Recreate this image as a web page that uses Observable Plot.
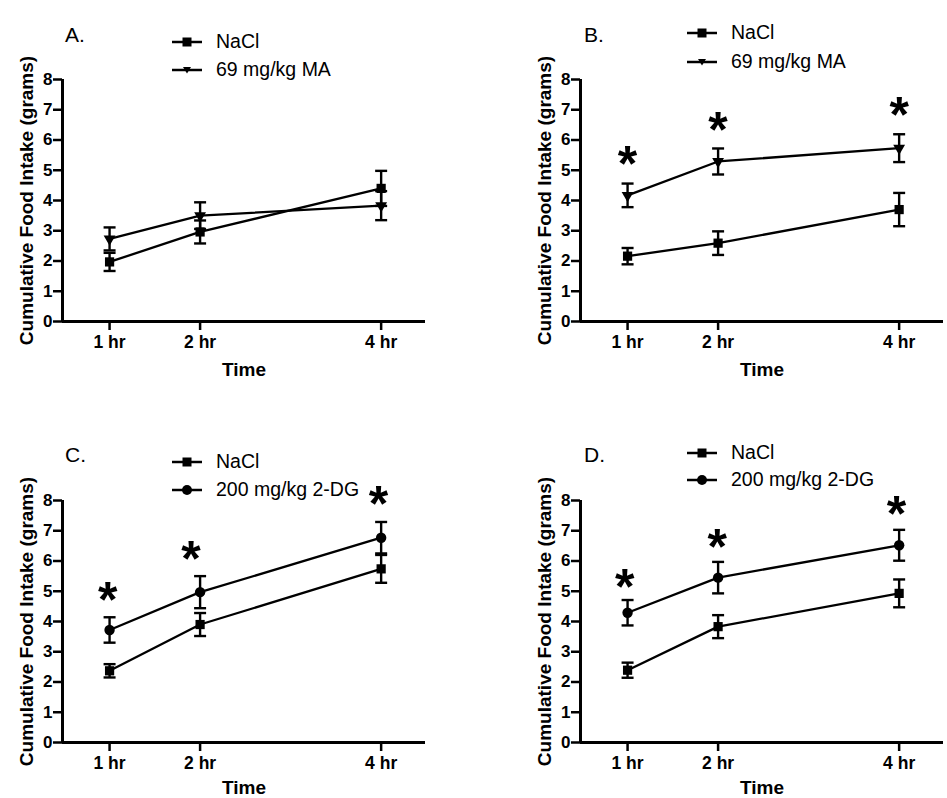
<!DOCTYPE html>
<html>
<head>
<meta charset="utf-8">
<script src="https://cdn.jsdelivr.net/npm/d3@7"></script>
<script src="https://cdn.jsdelivr.net/npm/@observablehq/plot@0.6"></script>
<style>
  html, body { margin: 0; padding: 0; background: #fff; }
  #root { position: relative; width: 947px; height: 798px; font-family: "Liberation Sans", Arial, sans-serif; color: #000; }
  .panel { position: absolute; }
  .letter { position: absolute; font-size: 21px; line-height: 1; }
  .legend { position: absolute; font-size: 19.5px; }
  .legrow { position: absolute; display: flex; align-items: center; white-space: nowrap; }
  .legrow svg { display: block; }
  .legrow span { margin-left: 14px; line-height: 1; }
</style>
</head>
<body>
<div id="root"></div>
<script>
// ---- Data ----
const times = [1, 2, 4];
const timeLabels = ["1 hr", "2 hr", "4 hr"];
const yTicks = [0, 1, 2, 3, 4, 5, 6, 7, 8];

// Panel A: NaCl vs 69 mg/kg MA
const aNaclMean = [1.97, 2.96, 4.40];
const aNaclSem  = [0.30, 0.38, 0.58];
const aMaMean   = [2.73, 3.50, 3.83];
const aMaSem    = [0.38, 0.44, 0.48];

// Panel B: NaCl vs 69 mg/kg MA
const bNaclMean = [2.16, 2.59, 3.70];
const bNaclSem  = [0.27, 0.39, 0.55];
const bMaMean   = [4.17, 5.29, 5.73];
const bMaSem    = [0.39, 0.43, 0.46];
const bStarX    = [1.0, 2.0, 4.0];
const bStarY    = [5.38, 6.48, 6.98];

// Panel C: NaCl vs 200 mg/kg 2-DG
const cNaclMean = [2.37, 3.90, 5.74];
const cNaclSem  = [0.22, 0.38, 0.46];
const cDgMean   = [3.72, 4.97, 6.77];
const cDgSem    = [0.42, 0.53, 0.52];
const cStarX    = [0.98, 1.90, 3.97];
const cStarY    = [4.86, 6.24, 8.06];

// Panel D: NaCl vs 200 mg/kg 2-DG
const dNaclMean = [2.39, 3.83, 4.93];
const dNaclSem  = [0.25, 0.38, 0.46];
const dDgMean   = [4.29, 5.45, 6.52];
const dDgSem    = [0.42, 0.52, 0.51];
const dStarX    = [0.97, 1.99, 3.97];
const dStarY    = [5.31, 6.63, 7.71];

const seriesNames = { nacl: "NaCl", ma: "69 mg/kg MA", dg: "200 mg/kg 2-DG" };
const xDomain = [0.48, 4.49];
const yDomain = [0, 8];
// ------------------------------------------------

const FONT = '"Liberation Sans", Arial, sans-serif';
const capSymbol = { draw(ctx) { ctx.moveTo(-6, 0); ctx.lineTo(6, 0); } };

function rows(mean, sem) {
  return times.map((t, i) => ({ t, m: mean[i], lo: mean[i] - sem[i], hi: mean[i] + sem[i] }));
}

function seriesMarks(data, symbol, r, rotate) {
  return [
    Plot.line(data, { x: "t", y: "m", stroke: "black", strokeWidth: 2.3 }),
    Plot.ruleX(data, { x: "t", y1: "lo", y2: "hi", stroke: "black", strokeWidth: 2.4 }),
    Plot.dot(data, { x: "t", y: "hi", symbol: capSymbol, fill: "none", stroke: "black", strokeWidth: 2.4 }),
    Plot.dot(data, { x: "t", y: "lo", symbol: capSymbol, fill: "none", stroke: "black", strokeWidth: 2.4 }),
    Plot.dot(data, { x: "t", y: "m", symbol, r, fill: "black", stroke: "none", rotate: rotate || 0 })
  ];
}

function makePanel(p) {
  const tri = p.bSymbol === "triangle";
  const marks = [
    Plot.ruleY([0], { stroke: "black", strokeWidth: 3 }),
    Plot.ruleX([xDomain[0]], { y1: yDomain[0], y2: yDomain[1], stroke: "black", strokeWidth: 3 }),
    Plot.axisY({ ticks: yTicks, tickSize: 9, tickPadding: 1, strokeWidth: 2.5, fontSize: 17, fontWeight: "bold", label: null }),
    Plot.axisX({ ticks: times, tickFormat: (d) => timeLabels[times.indexOf(d)], tickSize: 9, tickPadding: 5, strokeWidth: 2.5, fontSize: 17.5, fontWeight: "bold", label: null }),
    Plot.text(["Cumulative Food Intake (grams)"], { frameAnchor: "left", textAnchor: "middle", lineAnchor: "middle", dx: -36, rotate: -90, fontSize: 19, fontWeight: "bold" }),
    Plot.text(["Time"], { frameAnchor: "bottom", textAnchor: "middle", lineAnchor: "middle", dy: p.timeDy, fontSize: 19, fontWeight: "bold" }),
    ...seriesMarks(p.a, "square", 5.2, 0),
    ...seriesMarks(p.b, p.bSymbol, tri ? 4.4 : 5.2, tri ? 180 : 0)
  ];
  if (p.starX) {
    const stars = p.starX.map((x, i) => ({ x, y: p.starY[i] }));
    marks.push(Plot.text(stars, { x: "x", y: "y", text: () => "*", fontSize: 50, fontWeight: "bold", dy: 6 }));
  }
  const chart = Plot.plot({
    width: p.w, height: p.h,
    marginLeft: p.ml, marginRight: p.mr, marginTop: p.mt, marginBottom: p.mb,
    x: { type: "linear", domain: xDomain },
    y: { domain: yDomain },
    style: { fontFamily: FONT, background: "white", color: "black", overflow: "visible" },
    marks
  });
  const div = document.createElement("div");
  div.className = "panel";
  div.style.left = p.left + "px";
  div.style.top = p.top + "px";
  div.appendChild(chart);
  root.appendChild(div);

  const L = document.createElement("div");
  L.className = "letter";
  L.textContent = p.letter;
  L.style.left = p.letterX + "px";
  L.style.top = p.letterY + "px";
  root.appendChild(L);

  const items = [["square", seriesNames.nacl], [p.bSymbol, p.bName]];
  items.forEach(([sym, name], i) => {
    const row = document.createElement("div");
    row.className = "legrow legend";
    row.style.left = p.legX + "px";
    row.style.top = (p.legY[i] - 12) + "px";
    row.style.height = "24px";
    let shape;
    if (sym === "square") shape = '<rect x="10.5" y="7.5" width="9" height="9" fill="black"/>';
    else if (sym === "triangle") shape = '<path d="M11,9 L19,9 L15,15.5 Z" fill="black"/>';
    else shape = '<circle cx="15" cy="12" r="5" fill="black"/>';
    row.innerHTML = '<svg width="30" height="24"><line x1="0" y1="12" x2="30" y2="12" stroke="black" stroke-width="2.5"/>' + shape + '</svg><span>' + name + '</span>';
    root.appendChild(row);
  });
}

const root = document.getElementById("root");

makePanel({ letter: "A.", left: 0, top: 0, w: 470, h: 400, ml: 62, mr: 45, mt: 79, mb: 79, timeDy: 48,
  a: rows(aNaclMean, aNaclSem), b: rows(aMaMean, aMaSem), bSymbol: "triangle", bName: seriesNames.ma,
  letterX: 65, letterY: 24, legX: 172, legY: [42, 70] });

makePanel({ letter: "B.", left: 470, top: 0, w: 477, h: 400, ml: 110, mr: 4, mt: 79, mb: 79, timeDy: 48,
  a: rows(bNaclMean, bNaclSem), b: rows(bMaMean, bMaSem), bSymbol: "triangle", bName: seriesNames.ma,
  starX: bStarX, starY: bStarY,
  letterX: 584, letterY: 24, legX: 687, legY: [33, 62] });

makePanel({ letter: "C.", left: 0, top: 400, w: 470, h: 398, ml: 62, mr: 45, mt: 100, mb: 56, timeDy: 45,
  a: rows(cNaclMean, cNaclSem), b: rows(cDgMean, cDgSem), bSymbol: "circle", bName: seriesNames.dg,
  starX: cStarX, starY: cStarY,
  letterX: 65, letterY: 444, legX: 172, legY: [462, 490] });

makePanel({ letter: "D.", left: 470, top: 400, w: 477, h: 398, ml: 110, mr: 4, mt: 100, mb: 56, timeDy: 45,
  a: rows(dNaclMean, dNaclSem), b: rows(dDgMean, dDgSem), bSymbol: "circle", bName: seriesNames.dg,
  starX: dStarX, starY: dStarY,
  letterX: 584, letterY: 444, legX: 687, legY: [453, 480] });
</script>
</body>
</html>
